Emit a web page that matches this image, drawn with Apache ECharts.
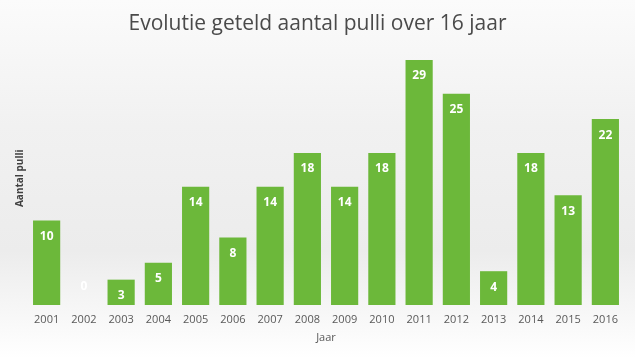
<!DOCTYPE html>
<html><head><meta charset="utf-8">
<script src="https://cdn.jsdelivr.net/npm/echarts@6/dist/echarts.min.js"></script>
<style>html,body{margin:0;padding:0;}#c{width:635px;height:358px;}</style>
</head><body><div id="c"></div>
<script>
const years = ['2001','2002','2003','2004','2005','2006','2007','2008','2009','2010','2011','2012','2013','2014','2015','2016'];
const pulli = [10,0,3,5,14,8,14,18,14,18,29,25,4,18,13,22];
const titleText = 'Evolutie geteld aantal pulli over 16 jaar';
const xName = 'Jaar';
const yName = 'Aantal pulli';

const chart = echarts.init(document.getElementById('c'));
chart.setOption({
  animation: false,
  backgroundColor: new echarts.graphic.LinearGradient(0,0,0,1,[
    {offset:0,color:'#fbfbfb'},{offset:0.35,color:'#f1f1f1'},{offset:0.7,color:'#ececec'},{offset:1,color:'#ffffff'}]),
  title: {text: titleText, left: 'center', top: 9,
    textStyle: {fontFamily: 'Open Sans', fontWeight: 'normal', fontSize: 21, color: '#4a4a4a'}},
  grid: {left: 28, right: 11, top: 51.5, bottom: 53},
  xAxis: {type: 'category', data: years, name: xName, nameLocation: 'middle', nameGap: 27,
    nameTextStyle: {fontFamily: 'Open Sans', fontSize: 11, color: '#595959'},
    axisLine: {show: false}, axisTick: {show: false},
    axisLabel: {fontFamily: 'Open Sans', fontSize: 11, color: '#595959', margin: 9}},
  yAxis: {type: 'value', min: 0, max: 30, show: true,
    axisLine: {show: false}, axisTick: {show: false}, axisLabel: {show: false}, splitLine: {show: false},
    name: yName, nameLocation: 'middle', nameGap: 3, nameRotate: 90,
    nameTextStyle: {fontFamily: 'Open Sans', fontSize: 10, fontWeight: 'bold', color: '#404040'}},
  series: [{type: 'bar', barCategoryGap: '27%',
    data: pulli.map(v => v === 0
      ? {value: v, label: {position: 'insideBottom', distance: 12}}
      : v),
    itemStyle: {color: '#6cb83a'},
    label: {show: true, position: 'insideTop', distance: 10, color: '#ffffff', fontWeight: 'bold',
      fontFamily: 'Open Sans', fontSize: 12}}]
});
</script></body></html>
